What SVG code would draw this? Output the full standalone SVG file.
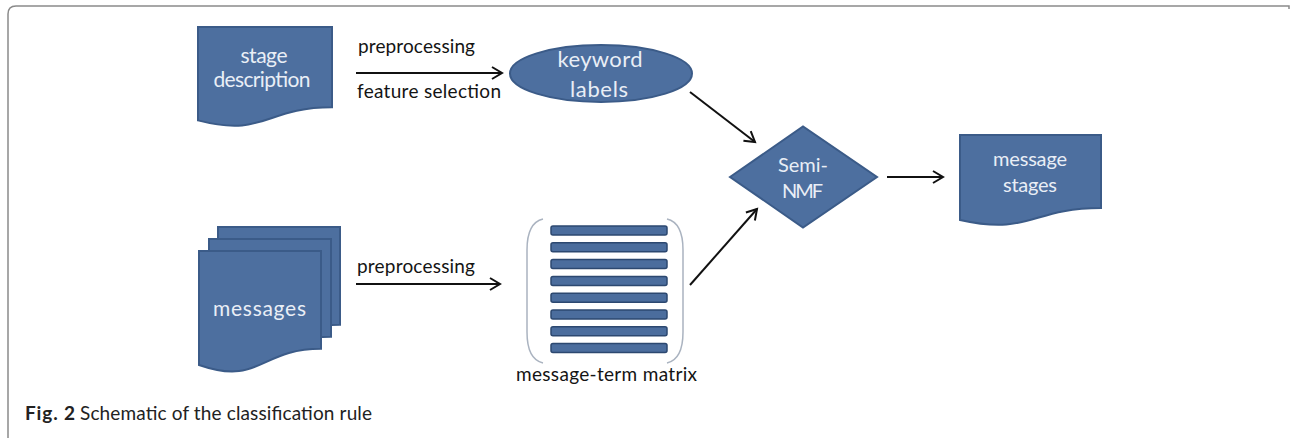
<svg xmlns="http://www.w3.org/2000/svg" width="1291" height="438" viewBox="0 0 1291 438">
<defs>
<style>
.shape{fill:#4d6f9f;stroke:#3b5b88;stroke-width:2}
.st{font-family:Lato,"Liberation Sans",sans-serif;fill:#e9eef6;text-anchor:middle}
.lb{font-family:Lato,"Liberation Sans",sans-serif;fill:#141414;font-size:19px}
.bar{fill:#4b6d9d;stroke:#2c4870;stroke-width:1.5}
.br{fill:none;stroke:#aab3c0;stroke-width:1.5}
.conn{stroke:#111;stroke-width:2;fill:none;marker-end:url(#ah)}
.cap{font-family:Lato,"Liberation Sans",sans-serif;fill:#222;font-size:19px}
</style>
<marker id="ah" markerUnits="userSpaceOnUse" markerWidth="14" markerHeight="14" viewBox="0 0 14 14" refX="12" refY="7" orient="auto" overflow="visible">
<path d="M2,1 L12,7 L2,13" fill="none" stroke="#111" stroke-width="2"/>
</marker>
</defs>
<rect width="1291" height="438" fill="#fff"/>
<path d="M8,438 V14 Q8,6 16,6 H1289 V9" fill="none" stroke="#8a8a8a" stroke-width="1.5"/>

<g id="stage-description">
<path class="shape" d="M198,27 H332 V107.2 C265,107.2 265,137.8 198,120.4 Z"/>
<text class="st" x="264" y="63" font-size="21" textLength="47">stage</text>
<text class="st" x="262" y="87" font-size="21" textLength="97">description</text>
</g>

<g id="keyword-labels">
<ellipse class="shape" cx="601" cy="73.5" rx="91" ry="28.5"/>
<text class="st" x="600" y="67" font-size="22" textLength="85">keyword</text>
<text class="st" x="599" y="97" font-size="22" textLength="58">labels</text>
</g>

<g id="messages">
<path class="shape" d="M218,227 H340 V324.8 C279,324.8 279,362.2 218,341 Z"/>
<path class="shape" d="M209,239 H331 V336.8 C270,336.8 270,374.2 209,353 Z"/>
<path class="shape" d="M199,251 H321 V348.8 C260,348.8 260,386.2 199,365 Z"/>
<text class="st" x="259.5" y="316" font-size="21" textLength="93">messages</text>
</g>

<g id="message-term-matrix">
<path class="br" d="M543,219 C530,222 527,235 527,250 V332 C527,347 530,360 543,363"/>
<path class="br" d="M667,219 C680,222 683,235 683,250 V332 C683,347 680,360 667,363"/>
<rect class="bar" x="551" y="226" width="116" height="9" rx="2"/>
<rect class="bar" x="551" y="242.8" width="116" height="9" rx="2"/>
<rect class="bar" x="551" y="259.6" width="116" height="9" rx="2"/>
<rect class="bar" x="551" y="276.4" width="116" height="9" rx="2"/>
<rect class="bar" x="551" y="293.2" width="116" height="9" rx="2"/>
<rect class="bar" x="551" y="310" width="116" height="9" rx="2"/>
<rect class="bar" x="551" y="326.8" width="116" height="9" rx="2"/>
<rect class="bar" x="551" y="343.6" width="116" height="9" rx="2"/>
<text class="lb" x="516" y="381" textLength="181">message-term  matrix</text>
</g>

<g id="semi-nmf">
<path class="shape" d="M730,177 L803,126.5 L877,177 L803,227.5 Z"/>
<text class="st" x="803" y="172" font-size="20" textLength="50">Semi-</text>
<text class="st" x="802.5" y="198" font-size="20" textLength="41">NMF</text>
</g>

<g id="message-stages">
<path class="shape" d="M960,135 H1101 V208 C1030.5,208 1030.5,235.8 960,220 Z"/>
<text class="st" x="1030" y="166" font-size="20" textLength="74">message</text>
<text class="st" x="1030" y="192" font-size="20" textLength="54">stages</text>
</g>

<g id="connectors">
<line class="conn" x1="356" y1="73" x2="502" y2="73"/>
<line class="conn" x1="356" y1="284" x2="500" y2="284"/>
<line class="conn" x1="690" y1="92" x2="755" y2="142"/>
<line class="conn" x1="690" y1="285" x2="757" y2="209"/>
<line class="conn" x1="887" y1="177" x2="943" y2="177"/>
<text class="lb" x="358" y="53" textLength="117">preprocessing</text>
<text class="lb" x="357" y="98" textLength="144">feature  selection</text>
<text class="lb" x="357" y="273" textLength="118">preprocessing</text>
</g>

<text class="cap" x="25" y="420"><tspan font-weight="bold" textLength="50">Fig. 2</tspan><tspan x="80" textLength="292">Schematic of the classification rule</tspan></text>
</svg>
